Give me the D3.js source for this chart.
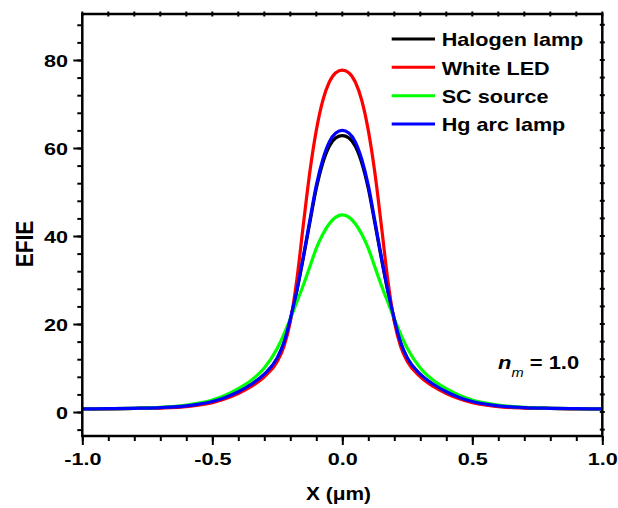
<!DOCTYPE html>
<html>
<head>
<meta charset="utf-8">
<script src="https://cdn.jsdelivr.net/npm/d3@7"></script>
<style>
  body { margin: 0; background: #fff; }
  svg { display: block; font-family: "Liberation Sans", Arial, sans-serif; font-weight: bold; }
</style>
</head>
<body>
<svg id="chart"></svg>
<script>
// positions along the line (um)
const xValues = [-1.0, -0.9, -0.8, -0.7, -0.6, -0.5, -0.45, -0.4, -0.35, -0.3, -0.25, -0.225, -0.2, -0.175, -0.15, -0.125, -0.1, -0.075, -0.05, -0.025,
  0.0, 0.025, 0.05, 0.075, 0.1, 0.125, 0.15, 0.175, 0.2, 0.225, 0.25, 0.3, 0.35, 0.4, 0.45, 0.5, 0.6, 0.7, 0.8, 0.9, 1.0];

// EFIE for each light source
const halogenLamp = [0.7, 0.75, 0.85, 1.0, 1.35, 2.3, 3.2, 4.5, 6.2, 8.5, 12.2, 15.6, 21.0, 27.5, 35.0, 43.0, 50.8, 56.6, 60.4, 62.3,
  62.8, 62.3, 60.4, 56.6, 50.8, 43.0, 35.0, 27.5, 21.0, 15.6, 12.2, 8.5, 6.2, 4.5, 3.2, 2.3, 1.35, 1.0, 0.85, 0.75, 0.7];
const whiteLed = [0.7, 0.72, 0.8, 0.9, 1.2, 2.1, 3.0, 4.2, 5.8, 8.0, 11.5, 14.8, 20.5, 30.0, 42.5, 54.5, 64.0, 70.8, 75.0, 77.1,
  77.7, 77.1, 75.0, 70.8, 64.0, 54.5, 42.5, 30.0, 20.5, 14.8, 11.5, 8.0, 5.8, 4.2, 3.0, 2.1, 1.2, 0.9, 0.8, 0.72, 0.7];
const scSource = [0.7, 0.75, 0.85, 1.05, 1.6, 2.7, 3.8, 5.3, 7.2, 10.0, 14.5, 17.6, 21.2, 25.0, 28.8, 33.0, 37.2, 40.4, 42.8, 44.3,
  44.8, 44.3, 42.8, 40.4, 37.2, 33.0, 28.8, 25.0, 21.2, 17.6, 14.5, 10.0, 7.2, 5.3, 3.8, 2.7, 1.6, 1.05, 0.85, 0.75, 0.7];
const hgArcLamp = [0.7, 0.75, 0.85, 1.0, 1.4, 2.4, 3.3, 4.6, 6.3, 8.6, 12.3, 15.7, 21.1, 27.6, 35.3, 43.5, 51.5, 57.4, 61.4, 63.4,
  64.0, 63.4, 61.4, 57.4, 51.5, 43.5, 35.3, 27.6, 21.1, 15.7, 12.3, 8.6, 6.3, 4.6, 3.3, 2.4, 1.4, 1.0, 0.85, 0.75, 0.7];

const seriesNames = ['Halogen lamp', 'White LED', 'SC source', 'Hg arc lamp'];
const seriesValues = [halogenLamp, whiteLed, scSource, hgArcLamp];
const seriesColors = ['#000000', '#ff0000', '#00ff00', '#0000ff'];

const xTickValues = [-1.0, -0.5, 0.0, 0.5, 1.0];
const yTickValues = [0, 20, 40, 60, 80];

const config = {
  width: 618,
  height: 508,
  margin: { top: 14, right: 15.7, bottom: 72, left: 82.3 },
  xDomain: [-1, 1],
  yDomain: [-5.45, 90.45],
};

const innerW = config.width - config.margin.left - config.margin.right;
const innerH = config.height - config.margin.top - config.margin.bottom;

const svg = d3.select('#chart')
  .attr('width', config.width)
  .attr('height', config.height);

const chart = svg.append('g')
  .attr('transform', `translate(${config.margin.left},${config.margin.top})`);

const xScale = d3.scaleLinear().domain(config.xDomain).range([0, innerW]);
const yScale = d3.scaleLinear().domain(config.yDomain).range([innerH, 0]);

const xMinor = d3.range(-10, 11).map((d) => d / 10);
const yMinor = d3.range(-1, 23).map((d) => d * 4);

// plain hyphen for negatives, like the original plot
const fmtX = (d) => d3.format('.1f')(d).replace('\u2212', '-');

// minor ticks first, then major ticks with labels
const xMinorAxis = d3.axisBottom(xScale).tickValues(xMinor).tickSize(5).tickFormat('');
const yMinorAxis = d3.axisLeft(yScale).tickValues(yMinor).tickSize(5).tickFormat('');
const xAxis = d3.axisBottom(xScale).tickValues(xTickValues).tickSize(9).tickPadding(0)
  .tickFormat(fmtX);
const yAxis = d3.axisLeft(yScale).tickValues(yTickValues).tickSize(9).tickPadding(0)
  .tickFormat(d3.format('d'));

const styleAxis = (g) => {
  g.select('.domain').remove();
  g.selectAll('line').attr('stroke', '#000').attr('stroke-width', 2);
};

chart.append('g').attr('transform', `translate(0,${innerH})`).call(xMinorAxis).call(styleAxis);
chart.append('g').call(yMinorAxis).call(styleAxis);

const xAxisG = chart.append('g')
  .attr('transform', `translate(0,${innerH})`)
  .call(xAxis)
  .call(styleAxis);
xAxisG.selectAll('text')
  .attr('y', null)
  .attr('dy', null)
  .attr('fill', '#000')
  .attr('font-size', 17)
  .attr('transform', 'translate(0,29.3) scale(1.27,1)');

const yAxisG = chart.append('g')
  .call(yAxis)
  .call(styleAxis);
yAxisG.selectAll('text')
  .attr('x', null)
  .attr('dy', null)
  .attr('fill', '#000')
  .attr('font-size', 17)
  .attr('transform', 'translate(-14.3,6.2) scale(1.27,1)');

// small mirror ticks on the top and right edges
chart.append('g').selectAll('line')
  .data(xMinor)
  .join('line')
  .attr('x1', (d) => xScale(d))
  .attr('x2', (d) => xScale(d))
  .attr('y1', -2.5)
  .attr('y2', 2.5)
  .attr('stroke', '#000')
  .attr('stroke-width', 2);
chart.append('g').selectAll('line')
  .data(yMinor)
  .join('line')
  .attr('y1', (d) => yScale(d))
  .attr('y2', (d) => yScale(d))
  .attr('x1', innerW - 2.5)
  .attr('x2', innerW + 2.5)
  .attr('stroke', '#000')
  .attr('stroke-width', 2);

// curves
const line = d3.line()
  .x((d) => xScale(d[0]))
  .y((d) => yScale(d[1]))
  .curve(d3.curveMonotoneX);

chart.append('g').selectAll('path')
  .data(seriesValues)
  .join('path')
  .attr('d', (vals) => line(vals.map((v, i) => [xValues[i], v])))
  .attr('fill', 'none')
  .attr('stroke', (d, i) => seriesColors[i])
  .attr('stroke-width', 3.2)
  .attr('stroke-linejoin', 'round');

// frame
chart.append('rect')
  .attr('width', innerW)
  .attr('height', innerH)
  .attr('fill', 'none')
  .attr('stroke', '#000')
  .attr('stroke-width', 2.5);

// legend
const legend = svg.append('g').attr('transform', 'translate(391.7,39)');
const rows = legend.selectAll('g')
  .data(seriesNames)
  .join('g')
  .attr('transform', (d, i) => `translate(0,${i * 28.35})`);
rows.append('line')
  .attr('x1', 0)
  .attr('x2', 43.3)
  .attr('stroke', (d, i) => seriesColors[i])
  .attr('stroke-width', 3);
rows.append('text')
  .attr('font-size', 18)
  .attr('transform', 'translate(50,7.3) scale(1.2,1)')
  .text((d) => d);

// axis titles
svg.append('text')
  .attr('text-anchor', 'middle')
  .attr('font-size', 18.5)
  .attr('transform', 'translate(338.5,500) scale(1.13,1)')
  .text('X (\u03bcm)');

svg.append('text')
  .attr('text-anchor', 'middle')
  .attr('font-size', 21)
  .attr('transform', 'translate(33,244) rotate(-90) scale(1,1.15)')
  .text('EFIE');

// refractive index note
const note = svg.append('text')
  .attr('font-size', 18)
  .attr('transform', 'translate(498,369.3) scale(1.22,1)');
note.append('tspan').attr('font-style', 'italic').text('n');
note.append('tspan').attr('font-style', 'italic').attr('font-weight', 'normal')
  .attr('font-size', 12).attr('dy', 8).text('m');
note.append('tspan').attr('dy', -8).text(' = 1.0');
</script>
</body>
</html>
